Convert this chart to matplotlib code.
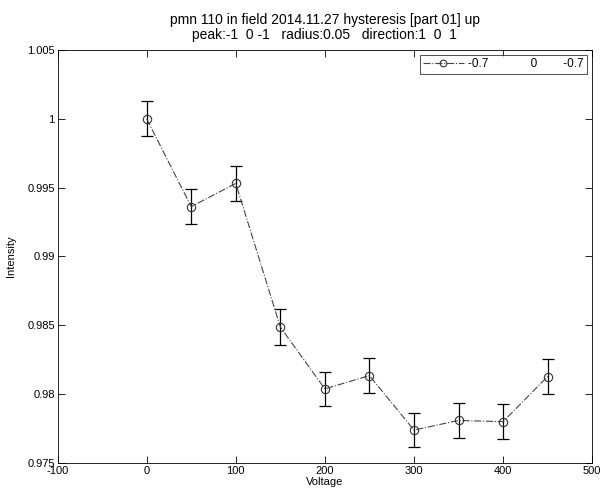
import matplotlib
matplotlib.use("Agg")
import matplotlib.pyplot as plt
from matplotlib.ticker import FixedLocator, FixedFormatter

plt.rcParams["font.family"] = ["Liberation Sans", "DejaVu Sans"]
plt.rcParams["axes.unicode_minus"] = False

# data
voltage = [0, 50, 100, 150, 200, 250, 300, 350, 400, 450]
intensity = [1.0000, 0.99362, 0.99531, 0.98488, 0.98038, 0.98135, 0.97739, 0.97809, 0.97800, 0.98128]
errors = [0.00128, 0.00127, 0.00129, 0.00128, 0.00126, 0.00127, 0.00126, 0.00126, 0.00126, 0.00127]

yticks = [0.975, 0.98, 0.985, 0.99, 0.995, 1.0, 1.005]
ytick_labels = ["0.975", "0.98", "0.985", "0.99", "0.995", "1", "1.005"]
xticks = [-100, 0, 100, 200, 300, 400, 500]

fig = plt.figure(figsize=(6.03, 4.94), dpi=100)
ax = fig.add_axes([0.0955, 0.0628, 0.8865, 0.836])

ax.errorbar(voltage, intensity, yerr=errors, fmt="none", ecolor="black",
            elinewidth=0.9, capsize=4, capthick=0.9, zorder=2)
ax.plot(voltage, intensity, linestyle="-.", color="#444444", linewidth=0.8,
        marker="o", markersize=6, markerfacecolor="none",
        markeredgecolor="#333333", markeredgewidth=0.8,
        label="-0.7             0        -0.7", zorder=3)

ax.set_xlim(-100, 500)
ax.set_ylim(0.975, 1.005)
ax.xaxis.set_major_locator(FixedLocator(xticks))
ax.yaxis.set_major_locator(FixedLocator(yticks))
ax.yaxis.set_major_formatter(FixedFormatter(ytick_labels))
ax.tick_params(direction="in", top=True, right=True, length=5, width=0.6,
               labelsize=8, pad=2)
for s in ax.spines.values():
    s.set_linewidth(0.6)

ax.set_xlabel("Voltage", fontsize=8, labelpad=1)
ax.set_ylabel("Intensity", fontsize=8, labelpad=8)
ax.set_title("pmn 110 in field 2014.11.27 hysteresis [part 01] up\n"
             "peak:-1  0 -1   radius:0.05   direction:1  0  1",
             fontsize=10, linespacing=1.05, pad=8)

leg = ax.legend(loc="upper right", fontsize=8.5, frameon=True, fancybox=False,
                edgecolor="black", handlelength=3.4, handletextpad=0.4,
                borderpad=0.3, borderaxespad=0.4, markerscale=0.8)
leg.get_frame().set_linewidth(0.6)

fig.savefig("out.png", dpi=100)
